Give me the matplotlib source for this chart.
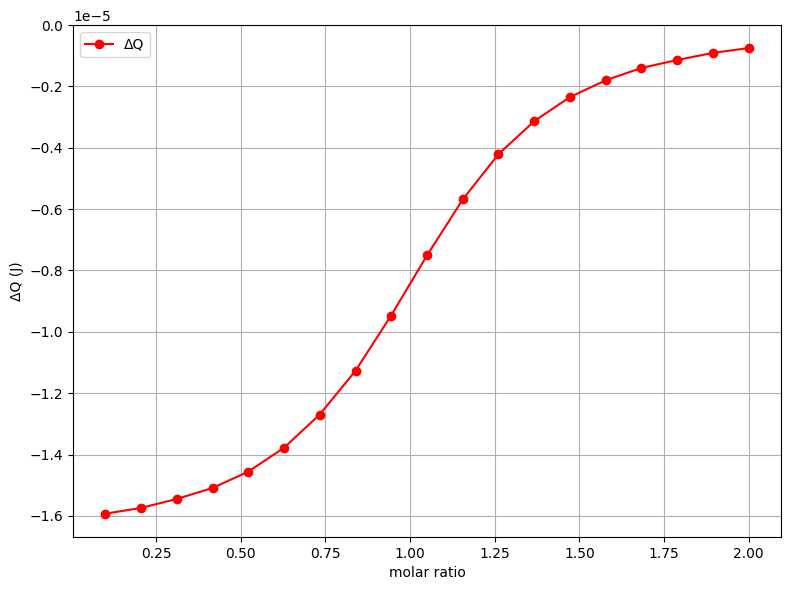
import matplotlib.pyplot as plt

# molar ratio and heat per injection (J)
molar_ratio = [0.100, 0.206, 0.311, 0.417, 0.522, 0.628, 0.733, 0.839, 0.944,
               1.050, 1.156, 1.261, 1.367, 1.472, 1.578, 1.683, 1.789, 1.894, 2.000]
dQ = [-1.593e-5, -1.574e-5, -1.545e-5, -1.509e-5, -1.456e-5, -1.378e-5, -1.270e-5,
      -1.127e-5, -0.947e-5, -0.751e-5, -0.568e-5, -0.421e-5, -0.313e-5, -0.235e-5,
      -0.180e-5, -0.140e-5, -0.114e-5, -0.091e-5, -0.075e-5]

fig, ax = plt.subplots(figsize=(7.9, 5.9), dpi=100)
ax.plot(molar_ratio, dQ, 'o-', color='red', label='ΔQ')
ax.set_ylim(top=0)
ax.set_xlabel('molar ratio')
ax.set_ylabel('ΔQ (J)')
ax.grid(True)
ax.legend(loc='upper left')
fig.subplots_adjust(left=0.0924, right=0.9886, bottom=0.0898, top=0.9576)
plt.savefig('out.png')
